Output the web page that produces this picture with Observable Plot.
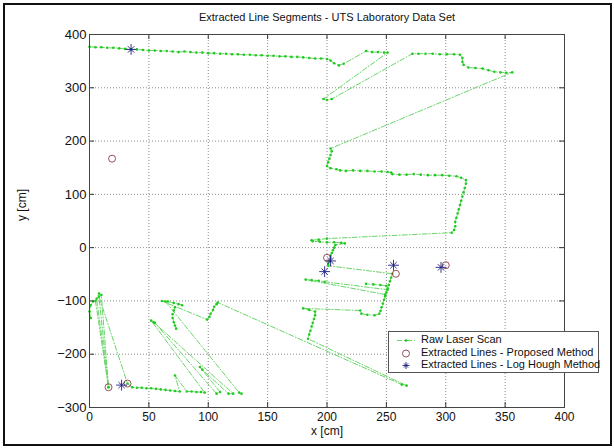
<!DOCTYPE html>
<html><head><meta charset="utf-8">
<script src="https://cdn.jsdelivr.net/npm/d3@7"></script>
<script src="https://cdn.jsdelivr.net/npm/@observablehq/plot@0.6"></script>
<style>
body{margin:0;background:#fff;font-family:"Liberation Sans",Arial,sans-serif}
#wrap{position:relative;width:614px;height:448px;overflow:hidden;background:#fff}
#border{position:absolute;left:3px;top:3px;width:605px;height:439px;border:2px solid #111;pointer-events:none}
#legend{position:absolute;left:388px;top:331px;width:209px;height:40px;border:1px solid #555;background:#fff;font-size:11px;color:#111}
#legend .row{position:absolute;left:0;height:12px;width:100%}
#legend svg{position:absolute;left:6px;top:0}
#legend span{position:absolute;left:32px;top:-1px;white-space:nowrap;line-height:13px}
</style></head><body>
<div id="wrap"><div id="chart"></div><div id="legend"></div><div id="border"></div></div>
<script>
const chartTitle = "Extracted Line Segments - UTS Laboratory Data Set";
const xLabel = "x [cm]";
const yLabel = "y [cm]";
const xTicks = [0, 50, 100, 150, 200, 250, 300, 350, 400];
const yTicks = [-300, -200, -100, 0, 100, 200, 300, 400];
const legendLabels = ["Raw Laser Scan", "Extracted Lines - Proposed Method", "Extracted Lines - Log Hough Method"];

// Raw laser scan path (null = break in the drawn line)
const rawScan = [
  [0,377],[5,376],[10,376],[15,375],[20,375],[25,374],[30,373],[35,372],[40,372],[45,371],[50,370],[55,370],[60,369],[65,369],[70,368],[75,367],[80,368],[85,367],[90,366],[95,366],[100,365],[105,365],[110,364],[115,364],[120,363],[125,363],[130,362],[135,362],[140,361],[145,361],[150,360],[155,360],[160,359],[165,359],[170,358],[175,358],[180,357],[185,356],[190,355],[195,355],[200,354],[203,351],[206,346],[210,342],[214,345],
  [233,369],[238,367],[243,367],[248,366],[251,366],
  [197,279],[200,277],[204,279],
  [272,364],[277,364],[283,364],[289,364],[295,363],[301,363],[307,363],[312,362],[314,356],[314,349],[315,343],[319,338],[325,337],[331,336],[336,333],[341,330],[346,329],[351,328],[356,329],
  [203,186],[204,181],[203,174],[202,167],[201,160],[200,153],[203,149],[208,147],[211,145],[216,144],[222,145],[228,144],[234,144],[240,143],[246,143],[251,142],[254,141],[255,138],[261,137],[267,137],[273,138],[279,137],[285,136],[291,136],[297,136],[303,135],[309,134],[313,131],[317,127],[317,120],[316,112],[315,104],[314,96],[313,88],[312,80],[311,72],[310,64],[309,56],[308,48],[308,40],[307,33],[305,28],
  [200,17],[193,15],[187,14],[188,12],[194,11],[200,10],[206,10],[212,9],[215,8],
  [207,5],[206,0],[205,-5],[204,-10],[203,-15],[203,-20],[202,-25],[201,-30],[201,-34],
  [255,-49],[254,-56],[253,-63],[252,-70],[251,-77],[250,-84],[249,-91],[248,-98],[247,-105],[246,-112],[245,-119],[244,-124],[240,-127],[234,-126],[229,-124],[228,-118],
  [180,-114],[185,-117],[190,-120],[190,-127],[189,-134],[188,-141],[187,-148],[186,-156],[185,-163],[184,-171],
  [267,-259],[263,-257],
  [108,-103],[107,-106],[105,-111],[104,-117],[102,-124],[101,-130],[99,-135],
  [61,-100],[66,-101],[71,-104],[75,-106],[78,-108],
  null,
  [72,-112],[71,-118],[70,-125],[70,-132],[71,-140],[72,-146],[73,-152],
  null,
  [249,-88],[182,-60],[187,-61],[193,-62],[198,-64],[251,-79],
  null,
  [250,-72],[245,-70],[239,-69],[233,-68],
  null,
  [1,-132],[0,-120],[1,-108],[3,-101],[5,-100],[16,-262],[6,-96],[8,-86],[10,-89],[16,-262],[8,-92],[32,-255],
  [36,-262],[40,-263],[44,-263],[48,-264],[52,-264],[56,-265],[60,-266],[64,-267],[68,-268],[72,-269],[76,-270],
  [72,-240],[82,-270],[86,-270],[90,-271],[94,-271],[97,-272],
  [52,-137],[55,-141],[107,-274],[110,-271],[93,-224],[95,-229],[117,-274],[121,-274],[54,-140],
  null,
  [64,-101],[126,-272],[128,-274]
];

const proposedX = [19, 200, 258, 300, 16, 32];
const proposedY = [167, -19, -49, -33, -262, -255];
const houghX = [35, 203, 198, 256, 296, 27];
const houghY = [372, -25, -45, -33, -37, -258];

const W = 614, H = 448, mL = 89, mR = 50, mT = 34, mB = 41;
const innerW = W - mL - mR, innerH = H - mT - mB;
const scan = rawScan.map(p => p ? {x: p[0], y: p[1]} : {x: NaN, y: NaN});
const prop = proposedX.map((x, i) => ({x, y: proposedY[i]}));
const hough = houghX.map((x, i) => ({x, y: houghY[i]}));

const scanStroke = "#6ad46a", dotFill = "#1ecb1e", circStroke = "#8c3c4a", starStroke = "#1f1f85";
const font = "Liberation Sans, Arial, sans-serif";

const chart = Plot.plot({
  width: W, height: H,
  marginLeft: mL, marginRight: mR, marginTop: mT, marginBottom: mB,
  style: {fontFamily: font, background: "transparent", color: "#111"},
  x: {domain: [0, 400]},
  y: {domain: [-300, 400]},
  marks: [
    Plot.ruleX(xTicks, {x: d => d, stroke: "#8c8c8c", strokeDasharray: "1,2"}),
    Plot.ruleY(yTicks, {y: d => d, stroke: "#8c8c8c", strokeDasharray: "1,2"}),
    Plot.line(scan, {x: "x", y: "y", stroke: scanStroke, strokeWidth: 1, strokeDasharray: "5,2,1,2"}),
    Plot.dot(scan, {x: "x", y: "y", r: 1.3, fill: dotFill, stroke: "none"}),
    Plot.dot(prop, {x: "x", y: "y", r: 3.5, stroke: circStroke, fill: "none", strokeWidth: 0.9}),
    Plot.dot(hough, {x: "x", y: "y", r: 3.6, symbol: "plus", stroke: starStroke, strokeWidth: 0.9}),
    Plot.dot(hough, {x: "x", y: "y", r: 3.0, symbol: "times", stroke: starStroke, strokeWidth: 0.9}),
    Plot.ruleX(xTicks, {x: d => d, insetTop: innerH - 5, stroke: "#333"}),
    Plot.ruleX(xTicks, {x: d => d, insetBottom: innerH - 5, stroke: "#333"}),
    Plot.ruleY(yTicks, {y: d => d, insetRight: innerW - 5, stroke: "#333"}),
    Plot.ruleY(yTicks, {y: d => d, insetLeft: innerW - 5, stroke: "#333"}),
    Plot.frame({stroke: "#444"}),
    Plot.axisX(xTicks, {tickSize: 0, tickPadding: 5, fontSize: 12, label: null}),
    Plot.axisY(yTicks, {tickSize: 0, tickPadding: 3, fontSize: 13, label: null}),
    Plot.text([chartTitle], {frameAnchor: "top", dy: -21, fontSize: 11, fill: "#111"}),
    Plot.text([xLabel], {frameAnchor: "bottom", dy: 27, fontSize: 12, fill: "#111"}),
    Plot.text([yLabel], {frameAnchor: "left", dx: -67, rotate: -90, fontSize: 12, fill: "#111"})
  ]
});
document.getElementById("chart").appendChild(chart);

// Legend
const legend = document.getElementById("legend");
const rowTops = [2, 14.5, 27];
const symbols = [
  `<svg width="24" height="12"><line x1="2" y1="6.5" x2="21" y2="6.5" stroke="${scanStroke}" stroke-width="1" stroke-dasharray="5,2,1,2"/><circle cx="11" cy="6.5" r="1.3" fill="${dotFill}"/></svg>`,
  `<svg width="24" height="12"><circle cx="11" cy="6.5" r="3.5" fill="none" stroke="${circStroke}" stroke-width="0.9"/></svg>`,
  `<svg width="24" height="12"><path d="M11,3v7M7.5,6.5h7M8.9,4.4l4.2,4.2M13.1,4.4l-4.2,4.2" stroke="${starStroke}" stroke-width="0.9"/></svg>`
];
legendLabels.forEach((lab, i) => {
  const row = document.createElement("div");
  row.className = "row";
  row.style.top = rowTops[i] + "px";
  row.innerHTML = symbols[i] + `<span>${lab}</span>`;
  legend.appendChild(row);
});
</script>
</body></html>
